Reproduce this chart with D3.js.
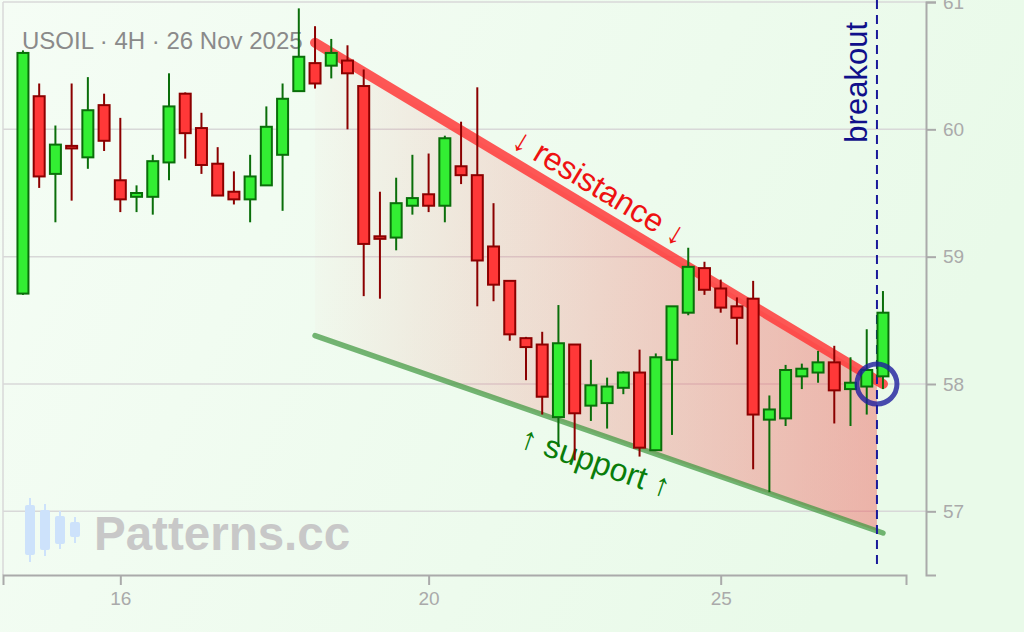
<!DOCTYPE html>
<html><head><meta charset="utf-8">
<script src="https://cdn.jsdelivr.net/npm/d3@7"></script>
<style>
html,body{margin:0;padding:0;background:#f0fdf0;overflow:hidden;}
svg{display:block;font-family:"Liberation Sans",Arial,sans-serif;}
</style>
</head><body>
<svg id="chart" width="1024" height="632"></svg>
<script>
// ---- data (USOIL 4H candles) ----
const opens  = [58.71,60.26,59.65,59.87,59.78,60.19,59.60,59.47,59.47,59.74,60.28,60.01,59.73,59.51,59.45,59.56,59.80,60.30,60.52,60.50,60.54,60.34,59.16,59.15,59.40,59.49,59.40,59.71,59.64,59.08,58.81,58.36,58.31,57.74,58.31,57.83,57.85,57.97,58.09,57.48,58.19,58.56,58.91,58.75,58.61,58.67,57.72,57.73,58.06,58.09,58.17,57.96,57.98,58.06];
const highs  = [60.62,60.36,60.03,60.36,60.41,60.28,60.09,59.56,59.80,60.44,60.29,60.13,59.86,59.67,59.80,60.18,60.36,60.95,60.81,60.71,60.66,60.47,59.51,59.62,59.80,59.81,59.95,60.06,60.33,59.42,58.81,58.37,58.41,58.62,58.31,58.19,58.05,58.10,58.27,58.24,58.61,59.07,58.96,58.82,58.68,58.81,57.91,58.15,58.16,58.26,58.30,58.21,58.43,58.73];
const lows   = [58.70,59.54,59.27,59.44,59.69,59.83,59.35,59.35,59.33,59.60,59.77,59.65,59.48,59.41,59.27,59.56,59.36,60.30,60.32,60.40,60.00,58.69,58.67,59.05,59.33,59.35,59.27,59.57,58.61,58.65,58.34,58.03,57.76,57.51,57.40,57.71,57.65,57.92,57.43,57.48,57.60,58.54,58.70,58.56,58.31,57.33,57.15,57.67,57.96,58.01,57.69,57.67,57.76,57.96];
const closes = [60.60,59.63,59.88,59.85,60.15,59.91,59.45,59.50,59.75,60.18,59.97,59.72,59.48,59.45,59.63,60.02,60.24,60.57,60.36,60.60,60.44,59.10,59.14,59.42,59.46,59.40,59.93,59.64,58.97,58.78,58.39,58.29,57.90,58.32,57.77,57.99,57.98,58.09,57.50,58.21,58.61,58.92,58.74,58.60,58.52,57.76,57.80,58.11,58.12,58.17,57.95,58.01,58.11,58.56];

const xTickIndex  = [6, 25, 43];
const xTickLabels = ["16", "20", "25"];
const yTicks      = [57, 58, 59, 60, 61];

const resistanceLine = [[18, 60.68], [53, 58.00]];
const supportLine    = [[18, 58.38], [53, 56.83]];
const breakoutIndex  = 52.63;
const breakoutPrice  = 58.00;

const titleText = "USOIL · 4H · 26 Nov 2025";
const resistanceText = "↓ resistance ↓";
const supportText = "↑ support ↑";
const breakoutText = "breakout";
const watermarkText = "Patterns.cc";

// ---- setup ----
const W = 1024, H = 632;
const svg = d3.select("#chart");
const x = d3.scaleLinear().domain([-1.23, 54.42]).range([3, 906]);
const y = d3.scaleLinear().domain([56.5, 61]).range([575, 2]);
const bodyW = 11;

const defs = svg.append("defs");
const bg = defs.append("linearGradient").attr("id","bg").attr("x1",0).attr("x2",1).attr("y1",0).attr("y2",0.3);
bg.append("stop").attr("offset","0%").attr("stop-color","#f5fdf5");
bg.append("stop").attr("offset","100%").attr("stop-color","#e9fae9");
svg.append("rect").attr("width",W).attr("height",H).attr("fill","url(#bg)");

// grid
const grid = svg.append("g");
grid.selectAll("line.h").data(yTicks).join("line")
  .attr("x1",3).attr("x2",926).attr("y1",d=>y(d)).attr("y2",d=>y(d))
  .attr("stroke","#d8d8d8").attr("stroke-width",1.5);
grid.append("line").attr("x1",3).attr("x2",3).attr("y1",y(61)).attr("y2",y(56.5))
  .attr("stroke","#d8d8d8").attr("stroke-width",1.5);

// title
svg.append("text").attr("x",22).attr("y",49).attr("font-size",24).attr("fill","#8a8a8a").text(titleText);

// watermark
const logoCandles = [[30,498,505,555,562],[45,504,510,550,556],[60,511,516,544,549],[75,517,522,537,543]];
const logo = svg.append("g").attr("fill","#cde2fb").attr("stroke","#cde2fb");
logoCandles.forEach(c=>{
  logo.append("line").attr("x1",c[0]).attr("x2",c[0]).attr("y1",c[1]).attr("y2",c[4]).attr("stroke-width",2);
  logo.append("rect").attr("x",c[0]-5).attr("y",c[2]).attr("width",10).attr("height",c[3]-c[2]).attr("rx",2).attr("stroke","none");
});
svg.append("text").attr("x",94).attr("y",550).attr("font-size",47.5).attr("font-weight","bold")
  .attr("fill","#c8c8c8").text(watermarkText);

// pattern fill
const lineVal = (ln, i) => ln[0][1] + (ln[1][1]-ln[0][1])*(i-ln[0][0])/(ln[1][0]-ln[0][0]);
const grad = defs.append("linearGradient").attr("id","fillGrad").attr("gradientUnits","userSpaceOnUse")
  .attr("x1",x(resistanceLine[0][0])).attr("x2",x(breakoutIndex)).attr("y1",0).attr("y2",0);
grad.append("stop").attr("offset","0%").attr("stop-color","#f04848").attr("stop-opacity",0.02);
grad.append("stop").attr("offset","100%").attr("stop-color","#f04848").attr("stop-opacity",0.4);
const poly = [
  [resistanceLine[0][0], resistanceLine[0][1]],
  [breakoutIndex, lineVal(resistanceLine, breakoutIndex)],
  [breakoutIndex, lineVal(supportLine, breakoutIndex)],
  [supportLine[0][0], supportLine[0][1]]
];
svg.append("path").attr("d", d3.line().x(d=>x(d[0])).y(d=>y(d[1]))(poly)+"Z").attr("fill","url(#fillGrad)");

// trend lines
const lg = d3.line().x(d=>x(d[0])).y(d=>y(d[1]));
svg.append("path").attr("d",lg(resistanceLine)).attr("stroke","#ff3a3a").attr("stroke-opacity",0.85)
  .attr("stroke-width",10).attr("stroke-linecap","round").attr("fill","none");
svg.append("path").attr("d",lg(supportLine)).attr("stroke","#3c963c").attr("stroke-opacity",0.7)
  .attr("stroke-width",5.5).attr("stroke-linecap","round").attr("fill","none");

function lineLabel(ln, frac, offset, txt, color){
  const x1=x(ln[0][0]), y1=y(ln[0][1]), x2=x(ln[1][0]), y2=y(ln[1][1]);
  const ang = Math.atan2(y2-y1, x2-x1)*180/Math.PI;
  const px = x1+(x2-x1)*frac, py = y1+(y2-y1)*frac;
  svg.append("text").attr("transform",`translate(${px},${py}) rotate(${ang}) translate(0,${offset})`)
    .attr("text-anchor","middle").attr("font-size",32).attr("fill",color).text(txt);
}
lineLabel(resistanceLine, 0.48, -12, resistanceText, "#ee1111");
lineLabel(supportLine, 0.51, 38, supportText, "#0a7d0a");

// breakout line
svg.append("line").attr("x1",x(breakoutIndex)).attr("x2",x(breakoutIndex)).attr("y1",0).attr("y2",570)
  .attr("stroke","#1a1a9a").attr("stroke-width",2).attr("stroke-dasharray","9,6");
svg.append("text").attr("transform",`translate(${x(breakoutIndex)-10},22) rotate(-90)`)
  .attr("text-anchor","end").attr("font-size",31).attr("fill","#10108a").text(breakoutText);

// candles
const idx = d3.range(opens.length);
const cg = svg.append("g");
const up = i => closes[i] >= opens[i];
cg.selectAll("line.w").data(idx).join("line")
  .attr("x1",i=>x(i)).attr("x2",i=>x(i)).attr("y1",i=>y(highs[i])).attr("y2",i=>y(lows[i]))
  .attr("stroke",i=>up(i)?"#0a6e0a":"#8b0000").attr("stroke-width",2);
cg.selectAll("rect.b").data(idx).join("rect")
  .attr("x",i=>x(i)-bodyW/2).attr("width",bodyW)
  .attr("y",i=>y(Math.max(opens[i],closes[i])))
  .attr("height",i=>Math.max(2, Math.abs(y(opens[i])-y(closes[i]))))
  .attr("fill",i=>up(i)?"#33ee33":"#ff3838")
  .attr("stroke",i=>up(i)?"#0a6e0a":"#8b0000").attr("stroke-width",2);

// breakout circle
svg.append("circle").attr("cx",x(breakoutIndex)).attr("cy",y(breakoutPrice)).attr("r",20)
  .attr("fill","none").attr("stroke","#1e1e9e").attr("stroke-opacity",0.8).attr("stroke-width",5);

// axes
const xAxis = d3.axisBottom(x).tickValues(xTickIndex).tickFormat((d,i)=>xTickLabels[i]).tickSize(10).tickPadding(7);
const gx = svg.append("g").attr("transform","translate(0,575)").call(xAxis);
const yAxis = d3.axisRight(y).tickValues(yTicks).tickFormat(d3.format("d")).tickSize(10).tickPadding(7);
const gy = svg.append("g").attr("transform","translate(926,0)").call(yAxis);
[gx,gy].forEach(g=>{
  g.select(".domain").attr("stroke","#aaaaaa").attr("stroke-width",2);
  g.selectAll(".tick line").attr("stroke","#aaaaaa").attr("stroke-width",2);
  g.selectAll(".tick text").attr("fill","#aaaaaa").attr("font-size",19).attr("font-family","Liberation Sans, Arial, sans-serif");
});
</script>
</body></html>
